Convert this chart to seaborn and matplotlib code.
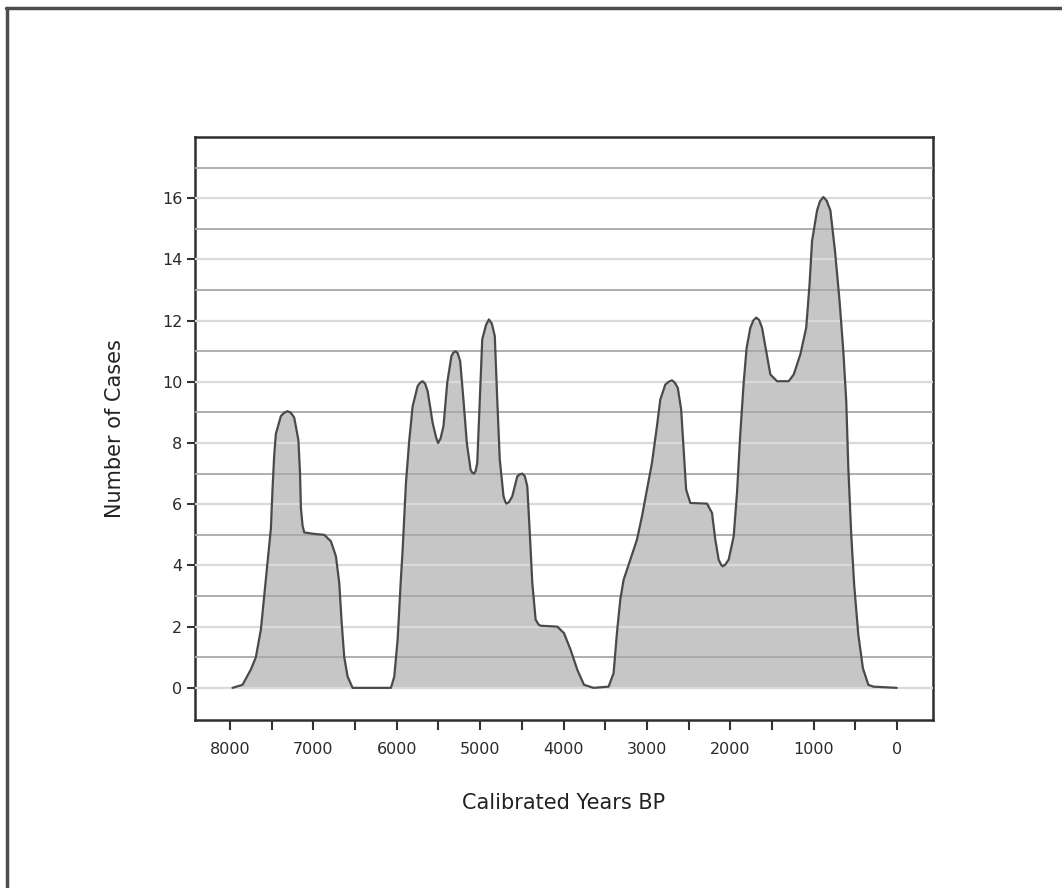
import numpy as np
import pandas as pd
import matplotlib
matplotlib.use("Agg")
import matplotlib.pyplot as plt
from matplotlib.lines import Line2D
import seaborn as sns

# summed probability curve (calibrated years BP, number of cases)
years = [7970, 7850, 7750, 7690, 7630, 7590, 7550, 7510, 7490, 7470, 7450, 7390, 7350, 7310,
         7270, 7230, 7180, 7160, 7150, 7130, 7110, 6990, 6870, 6790, 6730, 6690, 6660, 6630, 6590,
         6530, 6070, 6030, 5990, 5950, 5930, 5890, 5850, 5810, 5750, 5720, 5690, 5660, 5630, 5570,
         5530, 5505, 5475, 5440, 5395, 5345, 5320, 5295, 5270, 5240, 5200, 5160, 5115, 5095, 5075,
         5055, 5035, 5005, 4975, 4930, 4895, 4860, 4825, 4795, 4765, 4720, 4700, 4685, 4655, 4615,
         4555, 4525, 4495, 4465, 4435, 4405, 4375, 4335, 4300,
         4275, 4075, 3995, 3915, 3835, 3755, 3640, 3460, 3400, 3360, 3320, 3280, 3200,
         3120, 3060, 3000, 2940, 2880, 2840, 2780, 2740, 2700, 2665, 2630, 2590, 2560, 2530, 2480,
         2280, 2220, 2180, 2140, 2110, 2090, 2060, 2020, 1960, 1920, 1880, 1840, 1805, 1760, 1725,
         1690, 1655, 1620, 1570, 1520, 1440, 1300, 1240, 1160, 1090, 1050, 1020, 960, 925, 885, 845,
         800, 745, 690, 645, 610, 585, 550, 515, 465, 410, 345, 285, 5]
cases = [0.0, 0.1, 0.6, 1.0, 1.9, 3.0, 4.1, 5.2, 6.5, 7.6, 8.3, 8.88, 8.99, 9.04,
         8.99, 8.83, 8.1, 7.0, 5.9, 5.3, 5.08, 5.03, 5.0, 4.79, 4.3, 3.43, 2.1, 1.0, 0.37,
         0.0, 0.0, 0.37, 1.57, 3.6, 4.5, 6.7, 8.1, 9.2, 9.86, 9.97, 10.02, 9.94, 9.7, 8.66,
         8.2, 8.0, 8.15, 8.55, 9.97, 10.84, 10.96, 11.0, 10.94, 10.68, 9.4, 8.0, 7.13, 7.03, 7.0,
         7.08, 7.35, 9.4, 11.39, 11.86, 12.04, 11.9, 11.5, 9.4, 7.46, 6.26, 6.09, 6.02, 6.07, 6.26,
         6.91, 6.98, 7.0, 6.92, 6.59, 5.06, 3.43, 2.23, 2.07,
         2.03, 2.0, 1.79, 1.24, 0.59, 0.1, 0.0, 0.04, 0.48, 1.79, 2.88, 3.53, 4.19,
         4.84, 5.6, 6.48, 7.35, 8.55, 9.42, 9.91, 10.0, 10.05, 9.97, 9.8, 9.1, 7.79, 6.48, 6.04,
         6.02, 5.72, 4.84, 4.19, 4.02, 3.97, 4.03, 4.19, 4.95, 6.37, 8.33, 9.97, 11.1, 11.77, 12.0,
         12.1, 12.02, 11.77, 11.0, 10.24, 10.02, 10.02, 10.24, 10.9, 11.77, 13.19, 14.6, 15.6, 15.9, 16.04, 15.92,
         15.6, 14.28, 12.64, 11.0, 9.37, 7.19, 5.0, 3.37, 1.73, 0.64, 0.1, 0.04, 0.0]

x_major = list(range(0, 8001, 1000))
x_minor = list(range(500, 8000, 1000))
y_major = list(range(0, 17, 2))
y_minor = list(range(1, 18, 2))

df = pd.DataFrame({"Calibrated Years BP": years, "Number of Cases": cases})

sns.set_style("white")
plt.rcParams["font.family"] = ["DejaVu Sans"]

fig = plt.figure(figsize=(10.62, 8.88), dpi=100)
ax = fig.add_axes([0.1836, 0.1892, 0.6949, 0.6565])

ax.fill_between(df["Calibrated Years BP"], df["Number of Cases"], 0,
                color="#c6c6c6", linewidth=0, zorder=1)
sns.lineplot(data=df, x="Calibrated Years BP", y="Number of Cases", ax=ax,
             color="#4a4a4a", linewidth=1.6, sort=False, zorder=4,
             solid_joinstyle="round", solid_capstyle="round")

ax.set_xlim(8420, -430)
ax.set_ylim(-1.05, 18.0)

ax.set_xticks(x_major)
ax.set_xticks(x_minor, minor=True)
ax.set_xticklabels([str(v) for v in x_major])
ax.set_yticks(y_major)
ax.set_yticks(y_minor, minor=True)
ax.set_yticklabels([str(v) for v in y_major])

ax.set_axisbelow(False)
ax.yaxis.grid(True, which="major", color="#dadada", linewidth=1.6, zorder=2)
ax.yaxis.grid(True, which="minor", color="#a8a8a8", linewidth=1.3, zorder=2)
ax.xaxis.grid(False, which="both")

ax.tick_params(axis="x", which="both", direction="out", length=7, width=1.5,
               color="#333333", labelsize=11.5, labelcolor="#2a2a2a", pad=9, bottom=True)
ax.tick_params(axis="y", which="major", direction="out", length=6, width=1.5,
               color="#333333", labelsize=11.5, labelcolor="#2a2a2a", pad=3, left=True)
ax.tick_params(axis="y", which="minor", length=0)

for s in ax.spines.values():
    s.set_color("#2e2e2e")
    s.set_linewidth(1.8)

ax.set_xlabel("Calibrated Years BP", fontsize=15, color="#222222", labelpad=26)
ax.set_ylabel("Number of Cases", fontsize=15, color="#222222", labelpad=27)

# outer frame of the picture: only top and left edges are visible
fig.add_artist(Line2D([6 / 1062, 1.0], [1 - 8 / 888, 1 - 8 / 888],
                      transform=fig.transFigure, color="#4d4d4d", linewidth=2.5))
fig.add_artist(Line2D([7 / 1062, 7 / 1062], [0.0, 1 - 8 / 888],
                      transform=fig.transFigure, color="#4d4d4d", linewidth=2.5))

fig.savefig("out.png", dpi=100)
